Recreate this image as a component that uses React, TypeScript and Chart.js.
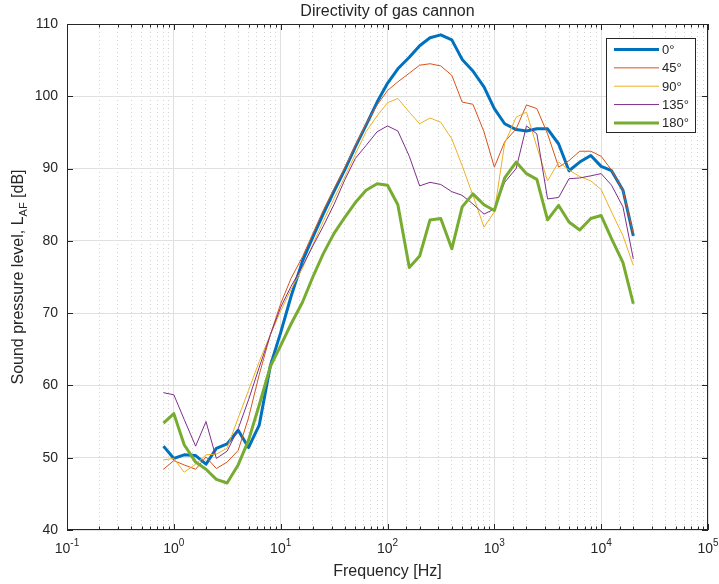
import React, { useEffect, useRef } from 'react';
import { Chart, registerables } from 'chart.js';

Chart.register(...registerables);

// ---- data ----
const FREQS = [
  0.8, 1, 1.25, 1.6, 2, 2.5, 3.15, 4, 5, 6.3, 8, 10, 12.5, 16, 20, 25, 31.5, 40, 50, 63, 80,
  100, 125, 160, 200, 250, 315, 400, 500, 630, 800, 1000, 1250, 1600, 2000, 2500, 3150, 4000,
  5000, 6300, 8000, 10000, 12500, 16000, 20000,
];

const LEVEL_0 = [
  51.6, 49.9, 50.4, 50.3, 49.1, 51.3, 51.9, 53.8, 51.4, 54.5, 62.7, 67.3, 72.3, 77.2, 80.5, 83.7,
  86.8, 89.9, 93.0, 96.0, 99.2, 101.8, 103.8, 105.4, 107.0, 108.1, 108.5, 107.8, 105.1, 103.5,
  101.3, 98.3, 96.2, 95.4, 95.2, 95.5, 95.5, 93.4, 89.7, 90.9, 91.8, 90.3, 89.7, 87.0, 80.7,
];

const LEVEL_45 = [
  48.4, 49.6, 49.0, 48.4, 50.1, 48.5, 49.4, 51.0, 55.5, 61.5, 67.0, 71.3, 74.8, 77.8, 81.0, 84.2,
  87.2, 90.2, 93.2, 96.2, 98.8, 100.8, 102.0, 103.2, 104.3, 104.5, 104.2, 102.9, 99.2, 98.9,
  95.1, 90.2, 93.7, 95.5, 98.8, 98.3, 94.8, 90.2, 91.1, 92.4, 92.4, 91.7, 89.8, 87.0, 81.0,
];

const LEVEL_90 = [
  49.7, 49.9, 48.0, 49.1, 50.4, 50.5, 51.3, 55.5, 59.3, 63.3, 67.0, 70.3, 73.3, 76.2, 79.5, 82.7,
  85.8, 88.9, 92.0, 95.1, 97.3, 99.1, 99.7, 97.8, 96.2, 97.0, 96.4, 94.1, 90.4, 86.3,
  81.9, 84.0, 93.5, 97.1, 97.8, 93.0, 88.3, 90.9, 89.8, 88.9, 88.3, 87.1, 84.0, 80.7, 76.6,
];

const LEVEL_135 = [
  59.0, 58.7, 55.3, 51.6, 55.0, 49.9, 50.9, 54.0, 58.0, 62.5, 67.0, 70.8, 73.7, 76.5, 79.3, 82.0,
  85.0, 88.5, 91.4, 93.2, 95.1, 95.9, 95.2, 91.7, 87.6, 88.1, 87.8, 86.8, 86.3, 85.1,
  83.7, 84.4, 88.1, 90.0, 95.9, 94.8, 85.8, 86.0, 88.6, 88.7, 89.0, 89.3, 87.7, 84.7, 77.5,
];

const LEVEL_180 = [
  54.8, 56.1, 51.8, 49.4, 48.4, 47.0, 46.5, 49.0, 52.4, 57.3, 62.6, 65.5, 68.5, 71.5, 75.0, 78.2,
  81.0, 83.3, 85.3, 87.0, 87.9, 87.7, 85.0, 76.3, 77.9, 82.9, 83.1, 78.9, 84.7, 86.5,
  85.0, 84.2, 88.7, 90.9, 89.3, 88.5, 82.9, 84.9, 82.6, 81.5, 83.1, 83.5, 80.3, 77.0, 71.3,
];

const SERIES_LABELS = ['0°', '45°', '90°', '135°', '180°'];
const SERIES_VALUES = [LEVEL_0, LEVEL_45, LEVEL_90, LEVEL_135, LEVEL_180];

const X_TICK_EXPONENTS = [-1, 0, 1, 2, 3, 4, 5];
const Y_MIN = 40;
const Y_MAX = 110;
const Y_STEP = 10;

const TITLE = 'Directivity of gas cannon';
const X_TITLE = 'Frequency [Hz]';
const Y_TITLE_MAIN = 'Sound pressure level, L';
const Y_TITLE_SUB = 'AF';
const Y_TITLE_END = ' [dB]';

// ---- styles ----
const SERIES_COLORS = ['#0072BD', '#D95319', '#EDB120', '#7E2F8E', '#77AC30'];
const SERIES_WIDTHS = [3, 1, 1, 1, 3];
const FONT = '"Liberation Sans", Arial, Helvetica, sans-serif';
const INK = '#262626';
const GRID_MAJOR = '#e0e0e0';
const GRID_MINOR = '#d2d2d2';

const isPow10 = (v: number) => {
  const l = Math.log10(v);
  return Math.abs(l - Math.round(l)) < 1e-9;
};

const decorPlugin = {
  id: 'decor',
  afterDraw(chart: any) {
    const { ctx, chartArea } = chart;
    const { left, right, top, bottom } = chartArea;
    const xs = chart.scales.x;
    const ys = chart.scales.y;
    ctx.save();

    // inward tick marks
    ctx.strokeStyle = INK;
    ctx.lineWidth = 1;
    ctx.beginPath();
    xs.ticks.forEach((t: any) => {
      const px = Math.round(xs.getPixelForValue(t.value)) + 0.5;
      const len = isPow10(t.value) ? 6 : 3.5;
      ctx.moveTo(px, bottom);
      ctx.lineTo(px, bottom - len);
      ctx.moveTo(px, top);
      ctx.lineTo(px, top + len);
    });
    ys.ticks.forEach((t: any) => {
      const py = Math.round(ys.getPixelForValue(t.value)) + 0.5;
      ctx.moveTo(left, py);
      ctx.lineTo(left + 6, py);
      ctx.moveTo(right, py);
      ctx.lineTo(right - 6, py);
    });
    ctx.stroke();

    // axes box
    const l = Math.round(left) + 0.5;
    const r = Math.round(right) - 0.5;
    const tp = Math.round(top) + 0.5;
    const b = Math.round(bottom) - 0.5;
    ctx.strokeRect(l, tp, r - l, b - tp);

    // x tick labels 10^n
    ctx.fillStyle = INK;
    ctx.textBaseline = 'alphabetic';
    ctx.textAlign = 'left';
    X_TICK_EXPONENTS.forEach((e) => {
      const px = xs.getPixelForValue(Math.pow(10, e));
      ctx.font = `14px ${FONT}`;
      const w1 = ctx.measureText('10').width;
      ctx.font = `10px ${FONT}`;
      const es = String(e);
      const w2 = ctx.measureText(es).width;
      const x0 = px - (w1 + w2) / 2;
      ctx.font = `14px ${FONT}`;
      ctx.fillText('10', x0, bottom + 23);
      ctx.font = `10px ${FONT}`;
      ctx.fillText(es, x0 + w1, bottom + 16);
    });

    // title
    const cx = (left + right) / 2;
    ctx.font = `16px ${FONT}`;
    ctx.textAlign = 'center';
    ctx.textBaseline = 'middle';
    ctx.fillText(TITLE, cx, 12);

    // x axis title
    ctx.fillText(X_TITLE, cx, 572);

    // y axis title with subscript
    ctx.save();
    ctx.translate(19, (top + bottom) / 2);
    ctx.rotate(-Math.PI / 2);
    ctx.textAlign = 'left';
    ctx.textBaseline = 'middle';
    ctx.font = `16px ${FONT}`;
    const wa = ctx.measureText(Y_TITLE_MAIN).width;
    const wc = ctx.measureText(Y_TITLE_END).width;
    ctx.font = `11px ${FONT}`;
    const wb = ctx.measureText(Y_TITLE_SUB).width;
    const total = wa + wb + wc;
    let x = -total / 2;
    ctx.font = `16px ${FONT}`;
    ctx.fillText(Y_TITLE_MAIN, x, 0);
    x += wa;
    ctx.font = `11px ${FONT}`;
    ctx.fillText(Y_TITLE_SUB, x, 5);
    x += wb;
    ctx.font = `16px ${FONT}`;
    ctx.fillText(Y_TITLE_END, x, 0);
    ctx.restore();

    // legend box
    const bx = 606.5;
    const by = 38.5;
    const bw = 89;
    const bh = 94;
    ctx.fillStyle = '#ffffff';
    ctx.fillRect(bx, by, bw, bh);
    ctx.strokeStyle = INK;
    ctx.lineWidth = 1;
    ctx.strokeRect(bx, by, bw, bh);
    ctx.font = `13px ${FONT}`;
    ctx.textAlign = 'left';
    ctx.textBaseline = 'middle';
    chart.data.datasets.forEach((ds: any, i: number) => {
      const y = 49.5 + i * 18.35;
      ctx.strokeStyle = ds.borderColor;
      ctx.lineWidth = ds.borderWidth;
      ctx.beginPath();
      ctx.moveTo(614, y);
      ctx.lineTo(659, y);
      ctx.stroke();
      ctx.fillStyle = INK;
      ctx.fillText(ds.label, 662, y + 1);
    });

    ctx.restore();
  },
};

export default function App() {
  const ref = useRef<HTMLCanvasElement | null>(null);

  useEffect(() => {
    const canvas = ref.current;
    if (!canvas) return;
    const chart = new Chart(canvas, {
      type: 'line',
      data: {
        datasets: SERIES_LABELS.map((label, i) => ({
          label,
          data: FREQS.map((f, j) => ({ x: f, y: SERIES_VALUES[i][j] })),
          borderColor: SERIES_COLORS[i],
          backgroundColor: SERIES_COLORS[i],
          borderWidth: SERIES_WIDTHS[i],
          borderJoinStyle: 'round',
          pointRadius: 0,
          fill: false,
          tension: 0,
          order: SERIES_LABELS.length - i,
        })),
      },
      options: {
        animation: false,
        responsive: false,
        devicePixelRatio: 1,
        layout: { padding: { top: 24, right: 11, left: 0, bottom: 0 } },
        plugins: {
          legend: { display: false },
          title: { display: false },
          tooltip: { enabled: false },
        },
        scales: {
          x: {
            type: 'logarithmic',
            min: 0.1,
            max: 1e5,
            afterFit: (s: any) => {
              s.height = 54;
            },
            ticks: { display: false, autoSkip: false },
            grid: {
              drawTicks: false,
              lineWidth: 1,
              color: (c: any) => (c.tick && isPow10(c.tick.value) ? GRID_MAJOR : GRID_MINOR),
            },
            border: {
              display: false,
              dash: (c: any) => (c.tick && !isPow10(c.tick.value) ? [1, 3] : []),
            },
          },
          y: {
            min: Y_MIN,
            max: Y_MAX,
            afterFit: (s: any) => {
              s.width = 67;
            },
            ticks: {
              stepSize: Y_STEP,
              color: INK,
              padding: 9,
              font: { family: FONT, size: 14 },
            },
            grid: { drawTicks: false, color: GRID_MAJOR, lineWidth: 1 },
            border: { display: false },
          },
        },
      } as any,
      plugins: [decorPlugin],
    } as any);
    return () => chart.destroy();
  }, []);

  return (
    <div style={{ position: 'absolute', left: 0, top: 0, width: 719, height: 584, background: '#ffffff' }}>
      <canvas ref={ref} width={719} height={584} style={{ display: 'block', width: 719, height: 584 }} />
    </div>
  );
}
